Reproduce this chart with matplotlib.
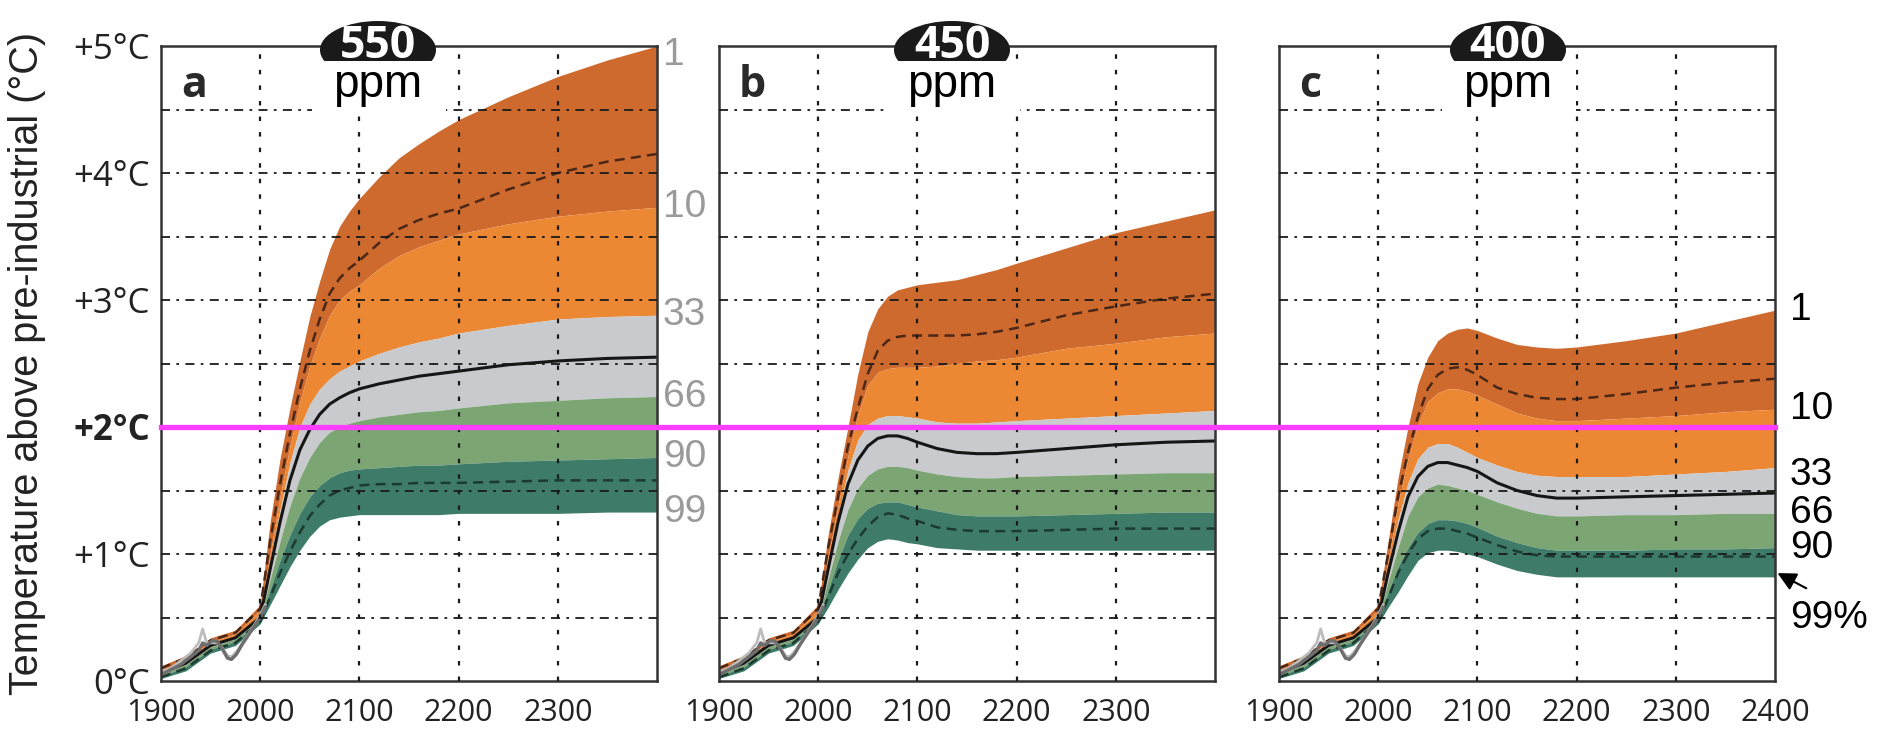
import numpy as np
import matplotlib.pyplot as plt
from matplotlib.patches import Ellipse, Rectangle
from matplotlib.lines import Line2D
import matplotlib.transforms as mtransforms

# model years (shared by all scenarios)
years = [1900, 1925, 1950, 1975,
         2000, 2010, 2020, 2030, 2040, 2050, 2060, 2070, 2080, 2090, 2100,
         2120, 2140, 2160, 2180, 2200, 2250, 2300, 2350, 2400]

# 550 ppm stabilisation: warming percentiles (°C)
p01_550 = [0.12, 0.20, 0.34, 0.40, 0.60, 1.25, 1.75, 2.15, 2.52, 2.87, 3.15, 3.40, 3.58, 3.70, 3.80, 3.97, 4.12, 4.23, 4.33, 4.42, 4.60, 4.76, 4.89, 5.00]
p05_550 = [0.10, 0.18, 0.32, 0.38, 0.57, 1.10, 1.55, 1.95, 2.30, 2.60, 2.85, 3.05, 3.17, 3.25, 3.31, 3.45, 3.56, 3.63, 3.68, 3.72, 3.87, 4.00, 4.09, 4.15]
p10_550 = [0.09, 0.17, 0.31, 0.37, 0.56, 1.00, 1.45, 1.85, 2.20, 2.48, 2.70, 2.88, 3.00, 3.07, 3.12, 3.25, 3.35, 3.42, 3.47, 3.52, 3.60, 3.66, 3.70, 3.73]
p33_550 = [0.07, 0.15, 0.29, 0.35, 0.52, 0.95, 1.35, 1.72, 2.00, 2.18, 2.30, 2.38, 2.44, 2.48, 2.52, 2.58, 2.63, 2.67, 2.70, 2.74, 2.80, 2.85, 2.87, 2.88]
p50_550 = [0.06, 0.14, 0.28, 0.34, 0.50, 0.88, 1.25, 1.58, 1.82, 1.98, 2.10, 2.18, 2.23, 2.27, 2.30, 2.34, 2.37, 2.40, 2.42, 2.44, 2.49, 2.52, 2.54, 2.55]
p66_550 = [0.05, 0.13, 0.27, 0.33, 0.49, 0.80, 1.10, 1.38, 1.60, 1.76, 1.88, 1.96, 2.00, 2.03, 2.05, 2.08, 2.10, 2.12, 2.13, 2.15, 2.19, 2.21, 2.23, 2.24]
p90_550 = [0.04, 0.11, 0.25, 0.31, 0.48, 0.72, 0.95, 1.15, 1.32, 1.45, 1.54, 1.60, 1.64, 1.66, 1.67, 1.68, 1.69, 1.70, 1.70, 1.71, 1.73, 1.74, 1.75, 1.76]
p95_550 = [0.03, 0.10, 0.24, 0.30, 0.47, 0.66, 0.85, 1.02, 1.17, 1.30, 1.39, 1.46, 1.50, 1.52, 1.54, 1.55, 1.55, 1.56, 1.56, 1.56, 1.57, 1.58, 1.58, 1.58]
p99_550 = [0.02, 0.08, 0.22, 0.28, 0.45, 0.60, 0.75, 0.90, 1.03, 1.14, 1.22, 1.27, 1.29, 1.30, 1.31, 1.31, 1.31, 1.31, 1.31, 1.32, 1.32, 1.32, 1.33, 1.33]

# 450 ppm
p01_450 = [0.12, 0.20, 0.34, 0.40, 0.60, 1.15, 1.60, 2.00, 2.42, 2.75, 2.93, 3.03, 3.08, 3.10, 3.12, 3.14, 3.16, 3.20, 3.24, 3.29, 3.41, 3.53, 3.62, 3.71]
p05_450 = [0.10, 0.18, 0.32, 0.38, 0.57, 1.05, 1.45, 1.85, 2.15, 2.42, 2.60, 2.68, 2.71, 2.72, 2.72, 2.72, 2.72, 2.73, 2.75, 2.78, 2.88, 2.95, 3.01, 3.05]
p10_450 = [0.09, 0.17, 0.31, 0.37, 0.56, 0.98, 1.38, 1.77, 2.10, 2.33, 2.43, 2.46, 2.47, 2.47, 2.47, 2.48, 2.50, 2.52, 2.53, 2.55, 2.62, 2.66, 2.71, 2.74]
p33_450 = [0.07, 0.15, 0.29, 0.35, 0.52, 0.92, 1.30, 1.66, 1.90, 2.02, 2.07, 2.09, 2.09, 2.08, 2.07, 2.04, 2.03, 2.03, 2.04, 2.05, 2.07, 2.09, 2.11, 2.13]
p50_450 = [0.06, 0.14, 0.28, 0.34, 0.50, 0.88, 1.25, 1.55, 1.74, 1.85, 1.91, 1.93, 1.93, 1.91, 1.88, 1.83, 1.80, 1.79, 1.79, 1.80, 1.83, 1.86, 1.88, 1.89]
p66_450 = [0.05, 0.13, 0.27, 0.33, 0.49, 0.80, 1.10, 1.35, 1.52, 1.62, 1.67, 1.69, 1.69, 1.68, 1.66, 1.63, 1.61, 1.60, 1.60, 1.61, 1.62, 1.63, 1.64, 1.64]
p90_450 = [0.04, 0.11, 0.25, 0.31, 0.48, 0.72, 0.95, 1.15, 1.28, 1.36, 1.40, 1.41, 1.41, 1.39, 1.37, 1.34, 1.31, 1.30, 1.30, 1.30, 1.31, 1.32, 1.33, 1.33]
p95_450 = [0.03, 0.10, 0.24, 0.30, 0.47, 0.66, 0.85, 1.00, 1.12, 1.22, 1.29, 1.32, 1.31, 1.28, 1.26, 1.21, 1.19, 1.18, 1.18, 1.18, 1.19, 1.20, 1.20, 1.20]
p99_450 = [0.02, 0.08, 0.22, 0.28, 0.45, 0.58, 0.72, 0.85, 0.96, 1.05, 1.10, 1.12, 1.11, 1.09, 1.08, 1.05, 1.04, 1.03, 1.03, 1.03, 1.03, 1.03, 1.03, 1.03]

# 400 ppm
p01_400 = [0.12, 0.20, 0.34, 0.40, 0.60, 1.10, 1.60, 2.00, 2.34, 2.55, 2.68, 2.74, 2.77, 2.78, 2.76, 2.70, 2.65, 2.63, 2.62, 2.63, 2.68, 2.74, 2.83, 2.92]
p05_400 = [0.10, 0.18, 0.32, 0.38, 0.57, 1.00, 1.45, 1.80, 2.08, 2.30, 2.41, 2.46, 2.47, 2.45, 2.41, 2.31, 2.26, 2.23, 2.22, 2.22, 2.26, 2.31, 2.35, 2.38]
p10_400 = [0.09, 0.17, 0.31, 0.37, 0.56, 0.95, 1.40, 1.75, 2.02, 2.20, 2.27, 2.30, 2.30, 2.28, 2.25, 2.18, 2.11, 2.07, 2.05, 2.05, 2.07, 2.09, 2.12, 2.14]
p33_400 = [0.07, 0.15, 0.29, 0.35, 0.52, 0.90, 1.27, 1.56, 1.75, 1.84, 1.87, 1.87, 1.84, 1.80, 1.76, 1.70, 1.65, 1.62, 1.61, 1.61, 1.61, 1.63, 1.65, 1.68]
p50_400 = [0.06, 0.14, 0.28, 0.34, 0.50, 0.85, 1.17, 1.45, 1.61, 1.69, 1.72, 1.72, 1.70, 1.68, 1.65, 1.56, 1.50, 1.46, 1.44, 1.44, 1.45, 1.46, 1.47, 1.48]
p66_400 = [0.05, 0.13, 0.27, 0.33, 0.49, 0.78, 1.05, 1.30, 1.45, 1.52, 1.55, 1.54, 1.52, 1.50, 1.47, 1.41, 1.36, 1.32, 1.30, 1.30, 1.31, 1.31, 1.32, 1.32]
p90_400 = [0.04, 0.11, 0.25, 0.31, 0.48, 0.70, 0.90, 1.05, 1.17, 1.24, 1.27, 1.27, 1.26, 1.24, 1.21, 1.14, 1.09, 1.05, 1.03, 1.03, 1.03, 1.04, 1.04, 1.05]
p95_400 = [0.03, 0.10, 0.24, 0.30, 0.47, 0.65, 0.85, 1.00, 1.12, 1.18, 1.20, 1.20, 1.18, 1.16, 1.13, 1.07, 1.02, 0.99, 0.98, 0.98, 0.98, 0.98, 0.98, 0.98]
p99_400 = [0.02, 0.08, 0.22, 0.28, 0.45, 0.58, 0.70, 0.83, 0.95, 1.01, 1.03, 1.03, 1.02, 1.00, 0.98, 0.92, 0.87, 0.84, 0.82, 0.82, 0.82, 0.82, 0.82, 0.82]

# observed temperature record
obs_year = [1900, 1910, 1920, 1930, 1938, 1942, 1946, 1952, 1957, 1962, 1967, 1971, 1976, 1982, 1988, 1994, 2000, 2005]
obs_temp = [0.05, 0.09, 0.13, 0.19, 0.24, 0.30, 0.28, 0.32, 0.31, 0.25, 0.18, 0.17, 0.21, 0.29, 0.36, 0.43, 0.50, 0.58]
obs_temp2 = [0.07, 0.10, 0.16, 0.22, 0.30, 0.41, 0.30, 0.30, 0.30, 0.26, 0.20, 0.19, 0.23, 0.30, 0.37, 0.44, 0.52, 0.60]

ppm_labels = ['550', '450', '400']
panel_letters = ['a', 'b', 'c']
pct_labels = ['1', '10', '33', '66', '90', '99']

scenarios = [
    (p01_550, p05_550, p10_550, p33_550, p50_550, p66_550, p90_550, p95_550, p99_550),
    (p01_450, p05_450, p10_450, p33_450, p50_450, p66_450, p90_450, p95_450, p99_450),
    (p01_400, p05_400, p10_400, p33_400, p50_400, p66_400, p90_400, p95_400, p99_400),
]

c_dark_orange = '#CF6A2E'
c_orange = '#EC8734'
c_grey = '#C8CACD'
c_green = '#7BA572'
c_teal = '#3E7B69'
c_magenta = '#FF3DFF'

W, H = 1896, 734
fig = plt.figure(figsize=(W / 100, H / 100), dpi=100)

# panel placement in pixels
lefts = [161, 719, 1279]
ax_w, ax_top, ax_bot = 496, 46, 681
badge_x = [378, 952, 1508]


def fx(px):
    return px / W


def fy(py):
    return 1 - py / H


axes = []
for i, (left, pct) in enumerate(zip(lefts, scenarios)):
    ax = fig.add_axes([fx(left), fy(ax_bot), ax_w / W, (ax_bot - ax_top) / H])
    axes.append(ax)
    p01, p05, p10, p33, p50, p66, p90, p95, p99 = pct

    ax.fill_between(years, p10, p01, color=c_dark_orange, lw=0, zorder=1)
    ax.fill_between(years, p33, p10, color=c_orange, lw=0, zorder=1)
    ax.fill_between(years, p66, p33, color=c_grey, lw=0, zorder=1)
    ax.fill_between(years, p90, p66, color=c_green, lw=0, zorder=1)
    ax.fill_between(years, p99, p90, color=c_teal, lw=0, zorder=1)

    ax.plot(years, p05, color='#4a2716', lw=1.8, dashes=(4, 2.5), zorder=2)
    ax.plot(years, p95, color='#1c3a30', lw=1.8, dashes=(4, 2.5), zorder=2)
    ax.plot(years, p50, color='#161616', lw=2.2, zorder=2)

    ax.plot(obs_year, obs_temp2, color='#bdbdbd', lw=2.0, zorder=2)
    ax.plot(obs_year, obs_temp, color='#6e6e6e', lw=2.4, zorder=2)

    # dotted grid drawn over the bands
    for yv in np.arange(0.5, 5.0, 0.5):
        ax.axhline(yv, color='#1a1a1a', lw=1.3, linestyle=(0, (5, 3.5, 1.5, 3.5)), zorder=3)
    for xv in [2000, 2100, 2200, 2300]:
        ax.axvline(xv, color='#1a1a1a', lw=1.6, linestyle=(0, (2, 5)), zorder=3)

    ax.set_xlim(1900, 2400)
    ax.set_ylim(0, 5)
    for s in ax.spines.values():
        s.set_color('#333333')
        s.set_linewidth(1.8)

    xt = [1900, 2000, 2100, 2200, 2300] + ([2400] if i == 2 else [])
    ax.set_xticks(xt)
    ax.set_xticklabels([str(v) for v in xt], fontsize=22, family='Open Sans', color='#222')
    ax.tick_params(axis='x', length=0, pad=12)
    if i == 0:
        ax.set_yticks([0, 1, 2, 3, 4, 5])
        ax.set_yticklabels(['0°C', '+1°C', '+2°C', '+3°C', '+4°C', '+5°C'],
                           fontsize=25, family='Open Sans', color='#222')
        ax.get_yticklabels()[2].set_fontweight('bold')
        ax.tick_params(axis='y', length=0, pad=8)
    else:
        ax.set_yticks([])

    ax.text(0.04, 0.92, panel_letters[i], transform=ax.transAxes, fontsize=31,
            fontweight='bold', family='Open Sans', color='#2a2a2a', zorder=5)

    # ppm badge sitting on the top frame
    bx = badge_x[i]
    fig.add_artist(Ellipse((fx(bx), fy(50)), 116 / W, 58 / H, transform=fig.transFigure,
                           facecolor='#1a1a1a', edgecolor='none', zorder=5))
    fig.add_artist(Rectangle((fx(bx - 66), fy(113)), 134 / W, 52 / H, transform=fig.transFigure,
                             facecolor='white', edgecolor='none', zorder=6))
    fig.text(fx(bx), fy(46), ppm_labels[i], ha='center', va='center', color='white',
             fontsize=32, fontweight='bold', family='Open Sans', zorder=7)
    fig.text(fx(bx), fy(97), 'ppm', ha='center', va='baseline', color='black',
             fontsize=33, family='Liberation Sans', zorder=7)

# percentile labels on the right of panels a and c
trans_a = mtransforms.blended_transform_factory(axes[0].transAxes, axes[0].transData)
ends_a = [min(p01_550[-1], 4.93), p10_550[-1], p33_550[-1], p66_550[-1], p90_550[-1], p99_550[-1]]
for lab, yv in zip(pct_labels, ends_a):
    axes[0].text(1.012, yv, lab, transform=trans_a, fontsize=28, family='Liberation Sans',
                 color='#9a9a9a', va='center', ha='left', clip_on=False)

trans_c = mtransforms.blended_transform_factory(axes[2].transAxes, axes[2].transData)
ends_c = [p01_400[-1], p10_400[-1], p33_400[-1] - 0.06, p66_400[-1], p90_400[-1]]
for lab, yv in zip(pct_labels[:5], ends_c):
    axes[2].text(1.03, yv, lab, transform=trans_c, fontsize=28, family='Liberation Sans',
                 color='black', va='center', ha='left', clip_on=False)
axes[2].text(1.03, 0.5, '99%', transform=trans_c, fontsize=28, family='Liberation Sans',
             color='black', va='center', ha='left', clip_on=False)
axes[2].annotate('', xy=(2400, p99_400[-1] + 0.04), xytext=(2434, 0.72),
                 arrowprops=dict(arrowstyle='-|>', color='black', lw=1.5, mutation_scale=28),
                 annotation_clip=False)

# 2 °C guardrail across all panels
y2 = fy(ax_bot - 2 / 5 * (ax_bot - ax_top))
fig.add_artist(Line2D([fx(lefts[0]), fx(lefts[2] + ax_w)], [y2, y2], transform=fig.transFigure,
                      color=c_magenta, lw=3.8, zorder=4))

fig.text(fx(27), fy(363), 'Temperature above pre-industrial (°C)', rotation=90,
         ha='center', va='center', fontsize=28.5, family='Liberation Sans', color='#222')

fig.savefig('out.png', dpi=100)
